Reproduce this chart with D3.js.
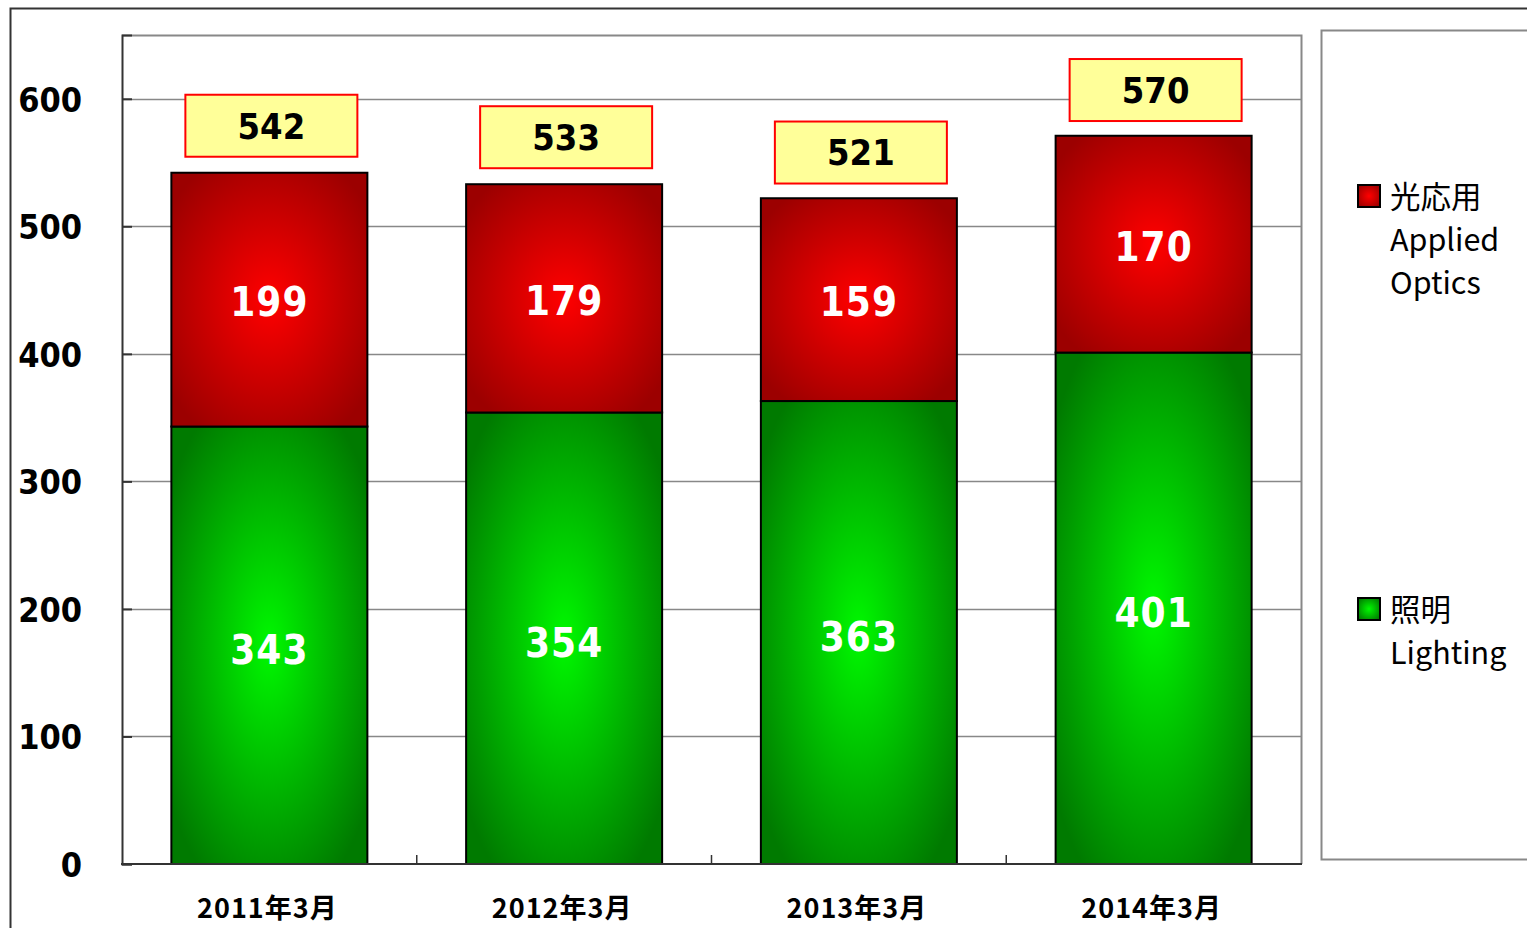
<!DOCTYPE html>
<html>
<head>
<meta charset="utf-8">
<script src="https://cdn.jsdelivr.net/npm/d3@7"></script>
<style>
  body { margin: 0; background: #fff; }
  svg { display: block; }
  .num { font-family: 'DejaVu Sans Condensed', 'DejaVu Sans', sans-serif; font-stretch: condensed; font-weight: bold; }
</style>
</head>
<body>
<div id="chart"></div>
<script>
// data
const categories = ["2011年3月", "2012年3月", "2013年3月", "2014年3月"];
const lighting = [343, 354, 363, 401];
const appliedOptics = [199, 179, 159, 170];
const totals = [542, 533, 521, 570];
const yTicks = [0, 100, 200, 300, 400, 500, 600];

const W = 1527, H = 928;
const plot = {left: 122, right: 1301, top: 35, bottom: 864};

const svg = d3.select("#chart").append("svg")
    .attr("width", W)
    .attr("height", H);

const defs = svg.append("defs");
function grad(id, inner, outer) {
    const g = defs.append("radialGradient")
        .attr("id", id)
        .attr("cx", "50%").attr("cy", "50%").attr("r", "62%");
    g.append("stop").attr("offset", "0%").attr("stop-color", inner);
    g.append("stop").attr("offset", "100%").attr("stop-color", outer);
}
grad("gGreen", "#00f800", "#007a00");
grad("gRed", "#ff0000", "#9c0000");

// outer frame
svg.append("path")
    .attr("d", `M10.5,${H + 2} V8.5 H${W + 2}`)
    .attr("fill", "none")
    .attr("stroke", "#333")
    .attr("stroke-width", 2);

const x = d3.scaleBand()
    .domain(categories)
    .range([plot.left, plot.right])
    .paddingInner(0.335)
    .paddingOuter(0.1675);

const y = d3.scaleLinear()
    .domain([0, 650])
    .range([plot.bottom, plot.top]);

// plot frame (gray top/right)
svg.append("path")
    .attr("d", `M${plot.left},${plot.top + 0.5} H${plot.right + 0.5} V${plot.bottom}`)
    .attr("fill", "none")
    .attr("stroke", "#888")
    .attr("stroke-width", 2);

// gridlines
svg.append("g")
    .selectAll("line")
    .data(yTicks.filter(d => d > 0))
    .join("line")
    .attr("x1", plot.left)
    .attr("x2", plot.right)
    .attr("y1", d => Math.round(y(d)) + 0.5)
    .attr("y2", d => Math.round(y(d)) + 0.5)
    .attr("stroke", "#888")
    .attr("stroke-width", 1.5);

// y axis
const yAxis = svg.append("g")
    .attr("transform", `translate(${plot.left},0)`)
    .call(d3.axisLeft(y).tickValues(yTicks).tickSize(-10).tickPadding(40));
yAxis.select(".domain").attr("stroke", "#333").attr("stroke-width", 2);
yAxis.selectAll(".tick line").attr("stroke", "#333").attr("stroke-width", 2);
yAxis.selectAll(".tick text")
    .attr("class", "num")
    .attr("font-size", 34)
    .attr("fill", "#000")
    .attr("dy", "0.36em");

// bars
const stacks = categories.map((c, i) => ({c, g: lighting[i], r: appliedOptics[i], t: totals[i]}));
const bars = svg.append("g");
bars.selectAll("rect.green")
    .data(stacks)
    .join("rect")
    .attr("class", "green")
    .attr("x", d => x(d.c))
    .attr("width", x.bandwidth())
    .attr("y", d => y(d.g))
    .attr("height", d => y(0) - y(d.g))
    .attr("fill", "url(#gGreen)")
    .attr("stroke", "#000")
    .attr("stroke-width", 2);
bars.selectAll("rect.red")
    .data(stacks)
    .join("rect")
    .attr("class", "red")
    .attr("x", d => x(d.c))
    .attr("width", x.bandwidth())
    .attr("y", d => y(d.g + d.r))
    .attr("height", d => y(d.g) - y(d.g + d.r))
    .attr("fill", "url(#gRed)")
    .attr("stroke", "#000")
    .attr("stroke-width", 2);

// x axis
svg.append("line")
    .attr("x1", plot.left - 1).attr("x2", plot.right + 1)
    .attr("y1", plot.bottom).attr("y2", plot.bottom)
    .attr("stroke", "#333").attr("stroke-width", 2);
svg.append("g")
    .selectAll("line")
    .data(categories.slice(1))
    .join("line")
    .attr("x1", d => x(d) - x.step() * x.paddingInner() / 2)
    .attr("x2", d => x(d) - x.step() * x.paddingInner() / 2)
    .attr("y1", plot.bottom - 9).attr("y2", plot.bottom)
    .attr("stroke", "#333").attr("stroke-width", 1.5);
svg.append("g")
    .selectAll("text")
    .data(categories)
    .join("text")
    .attr("x", d => x(d) + x.bandwidth() / 2 - 2)
    .attr("y", 918)
    .attr("text-anchor", "middle")
    .attr("font-family", "'Noto Sans CJK JP', sans-serif")
    .attr("font-weight", "bold")
    .attr("font-size", 27)
    .attr("letter-spacing", 1)
    .text(d => d);

// segment value labels
const segLabel = (data, val, mid) => svg.append("g")
    .selectAll("text")
    .data(data)
    .join("text")
    .attr("class", "num")
    .attr("x", d => x(d.c) + x.bandwidth() / 2)
    .attr("y", mid)
    .attr("dy", "0.36em")
    .attr("text-anchor", "middle")
    .attr("font-size", 40)
    .attr("letter-spacing", 1)
    .attr("fill", "#fff")
    .text(val);
segLabel(stacks, d => d.g, d => (y(0) + y(d.g)) / 2 + 4);
segLabel(stacks, d => d.r, d => (y(d.g) + y(d.g + d.r)) / 2 + 2);

// total boxes
const tot = svg.append("g")
    .selectAll("g")
    .data(stacks)
    .join("g")
    .attr("transform", d => `translate(${x(d.c) + x.bandwidth() / 2 + 2},${y(d.t) - 47})`);
tot.append("rect")
    .attr("x", -86).attr("y", -31)
    .attr("width", 172).attr("height", 62)
    .attr("fill", "#ffff99")
    .attr("stroke", "#ff0000")
    .attr("stroke-width", 2);
tot.append("text")
    .attr("class", "num")
    .attr("dy", "0.36em")
    .attr("text-anchor", "middle")
    .attr("font-size", 36)
    .text(d => d.t);

// legend
svg.append("rect")
    .attr("x", 1321.5).attr("y", 30.5)
    .attr("width", 260).attr("height", 829)
    .attr("fill", "#fff")
    .attr("stroke", "#888")
    .attr("stroke-width", 2);

const legendItems = [
    {fill: "url(#gRed)", y: 196, lines: ["光応用", "Applied", "Optics"]},
    {fill: "url(#gGreen)", y: 609, lines: ["照明", "Lighting"]}
];
const leg = svg.append("g")
    .selectAll("g")
    .data(legendItems)
    .join("g");
leg.append("rect")
    .attr("x", 1358).attr("y", d => d.y - 11)
    .attr("width", 22).attr("height", 22)
    .attr("fill", d => d.fill)
    .attr("stroke", "#000")
    .attr("stroke-width", 2);
leg.append("text")
    .attr("font-family", "'Noto Sans CJK JP', sans-serif")
    .attr("font-size", 30.5)
    .attr("fill", "#000")
    .selectAll("tspan")
    .data(d => d.lines.map((l, i) => ({l, i, y: d.y})))
    .join("tspan")
    .attr("x", 1390)
    .attr("y", d => d.y + 12 + d.i * 43)
    .text(d => d.l);
</script>
</body>
</html>
